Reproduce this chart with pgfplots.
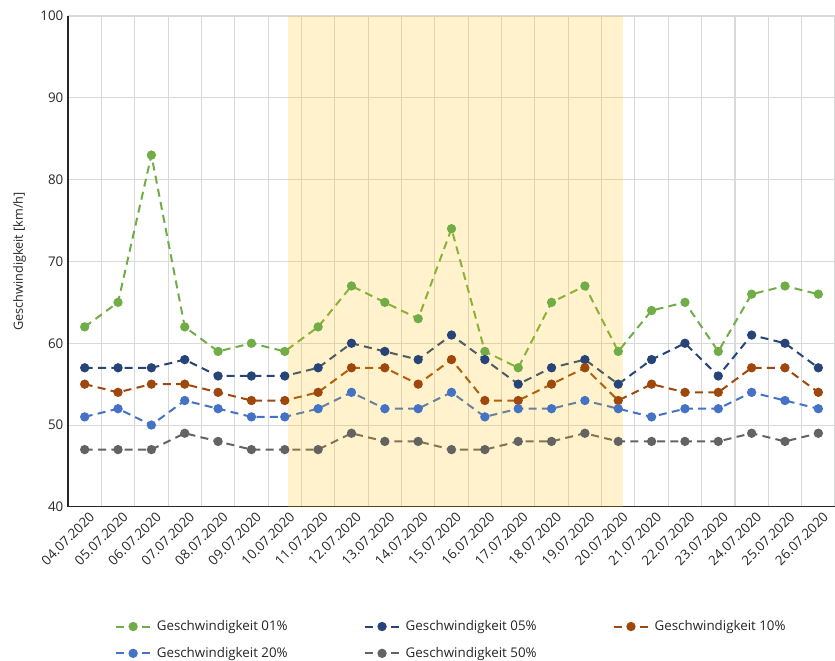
\documentclass[border=0pt]{standalone}
\usepackage{pgfplots}
\pgfplotsset{compat=1.18}
\usepackage{fontspec}
\setmainfont{Open Sans}
\definecolor{cA}{HTML}{70AD47}
\definecolor{cB}{HTML}{264478}
\definecolor{cC}{HTML}{9E480E}
\definecolor{cD}{HTML}{4472C4}
\definecolor{cE}{HTML}{636363}
\definecolor{band}{HTML}{FFC000}
\definecolor{gridc}{HTML}{D9D9D9}
\begin{document}
\begin{tikzpicture}
\begin{axis}[
  scale only axis, width=575pt, height=368pt,
  xmin=-0.5, xmax=22.5, ymin=40, ymax=100,
  ytick={40,50,...,100},
  xtick={0,...,22},
  xticklabels={04.07.2020,05.07.2020,06.07.2020,07.07.2020,08.07.2020,09.07.2020,10.07.2020,11.07.2020,12.07.2020,13.07.2020,14.07.2020,15.07.2020,16.07.2020,17.07.2020,18.07.2020,19.07.2020,20.07.2020,21.07.2020,22.07.2020,23.07.2020,24.07.2020,25.07.2020,26.07.2020},
  minor xtick={-0.5,0.5,1.5,2.5,3.5,4.5,5.5,6.5,7.5,8.5,9.5,10.5,11.5,12.5,13.5,14.5,15.5,16.5,17.5,18.5,19.5,20.5,21.5,22.5},
  xticklabel style={rotate=45, anchor=north east, inner sep=1pt, yshift=-3pt, xshift=1pt},
  major tick length=0pt, minor tick length=0pt,
  ymajorgrids, xminorgrids,
  grid style={gridc, line width=0.8pt},
  minor grid style={gridc, line width=0.8pt},
  axis x line*=bottom, axis y line*=left,
  axis line style={black!85, line width=0.9pt, -},
  ticklabel style={font=\fontsize{10}{12}\selectfont, black!85},
  /pgf/number format/assume math mode=true,
  ylabel={Geschwindigkeit [km/h]},
  ylabel style={font=\fontsize{9.5}{11}\selectfont, black!85, yshift=4pt},
  every axis plot/.append style={line width=1.5pt, dash pattern=on 6pt off 4pt, mark=*, mark size=2.7pt, mark options={solid}},
  legend columns=3,
  legend style={at={(0.5,-0.22)}, anchor=north, draw=none, font=\fontsize{10}{12}\selectfont,
    column sep=2pt, row sep=7pt, text=black!85,
    /tikz/every even column/.append style={column sep=55pt}},
  legend cell align=left,
  legend image code/.code={
    \draw[#1, solid, mark=none] (0pt,0pt)--(6pt,0pt) (20pt,0pt)--(26pt,0pt);
    \draw[#1, only marks] plot coordinates {(13pt,0pt)};
  },
  clip=true,
]
\addplot[cA] coordinates {(0,62)(1,65)(2,83)(3,62)(4,59)(5,60)(6,59)(7,62)(8,67)(9,65)(10,63)(11,74)(12,59)(13,57)(14,65)(15,67)(16,59)(17,64)(18,65)(19,59)(20,66)(21,67)(22,66)};
\addlegendentry{Geschwindigkeit 01\%}
\addplot[cB] coordinates {(0,57)(1,57)(2,57)(3,58)(4,56)(5,56)(6,56)(7,57)(8,60)(9,59)(10,58)(11,61)(12,58)(13,55)(14,57)(15,58)(16,55)(17,58)(18,60)(19,56)(20,61)(21,60)(22,57)};
\addlegendentry{Geschwindigkeit 05\%}
\addplot[cC] coordinates {(0,55)(1,54)(2,55)(3,55)(4,54)(5,53)(6,53)(7,54)(8,57)(9,57)(10,55)(11,58)(12,53)(13,53)(14,55)(15,57)(16,53)(17,55)(18,54)(19,54)(20,57)(21,57)(22,54)};
\addlegendentry{Geschwindigkeit 10\%}
\addplot[cD] coordinates {(0,51)(1,52)(2,50)(3,53)(4,52)(5,51)(6,51)(7,52)(8,54)(9,52)(10,52)(11,54)(12,51)(13,52)(14,52)(15,53)(16,52)(17,51)(18,52)(19,52)(20,54)(21,53)(22,52)};
\addlegendentry{Geschwindigkeit 20\%}
\addplot[cE] coordinates {(0,47)(1,47)(2,47)(3,49)(4,48)(5,47)(6,47)(7,47)(8,49)(9,48)(10,48)(11,47)(12,47)(13,48)(14,48)(15,49)(16,48)(17,48)(18,48)(19,48)(20,49)(21,48)(22,49)};
\addlegendentry{Geschwindigkeit 50\%}
\addplot[forget plot, draw=none, mark=none, fill=band, fill opacity=0.2] coordinates {(6.1,40)(6.1,100)(16.15,100)(16.15,40)} -- cycle;
\coordinate (sw) at (rel axis cs:0,0);
\coordinate (ne) at (rel axis cs:1,1);
\end{axis}
\pgfresetboundingbox
\path ([shift={(-51pt,-115.5pt)}]sw) rectangle ([shift={(0pt,12pt)}]ne);
\end{tikzpicture}
\end{document}
